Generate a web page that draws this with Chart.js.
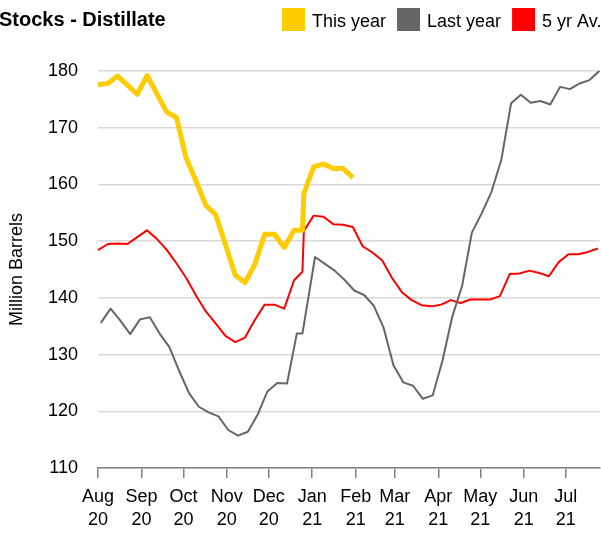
<!DOCTYPE html>
<html><head><meta charset="utf-8">
<script src="https://cdn.jsdelivr.net/npm/chart.js@4.4.1/dist/chart.umd.min.js"></script>
<style>html,body{margin:0;padding:0;background:#fff;overflow:hidden}</style>
</head><body>
<canvas id="c" width="601" height="533"></canvas>
<script>
// ---- data (x = days after 1 Aug 2020, as placed on the date axis) ----
const chartTitle = 'Stocks - Distillate';
const yAxisTitle = 'Million Barrels';
const monthDays  = [0, 31, 61, 92, 122, 153, 184, 212, 243, 273, 304, 334];
const monthNames = ['Aug','Sep','Oct','Nov','Dec','Jan','Feb','Mar','Apr','May','Jun','Jul'];
const monthYears = ['20','20','20','20','20','21','21','21','21','21','21','21'];

const seriesNames = ['This year', 'Last year', '5 yr Av.'];

const thisYearDays = [0,7,14,21,28,35,42,49,56,63,70,77,84,91,98,105,112,119,126,133,140,146,147,154,161,168,175,182];
const thisYearValues = [177.6,177.8,179.1,177.5,175.9,179.2,176.0,172.8,171.8,164.6,160.6,156.3,154.7,149.4,144.0,142.7,145.9,151.2,151.2,148.9,151.9,151.9,158.4,163.1,163.6,162.8,162.8,161.2];

const lastYearDays = [2,9,16,23,30,37,44,51,58,65,72,79,86,93,100,107,114,121,128,135,142,146,
  155,162,169,176,183,190,197,204,211,218,225,232,239,246,253,260,267,274,281,288,295,302,309,316,323,330,337,344,351,358];
const lastYearValues = [135.6,138.1,136.0,133.6,136.2,136.6,133.7,131.3,127.1,123.2,120.8,119.8,119.1,116.7,115.7,116.4,119.4,123.5,125.0,124.9,133.7,133.7,
  147.2,146.0,144.8,143.2,141.3,140.5,138.6,134.7,128.1,125.1,124.5,122.2,122.8,128.9,136.7,142.1,151.5,154.9,158.7,164.3,174.3,175.8,174.4,174.7,174.1,177.2,176.8,177.8,178.4,180.0];

const fiveYearDays = [0,7,14,21,28,35,42,49,56,63,70,77,84,91,98,105,112,119,126,133,140,146,
  147,154,161,168,175,182,189,196,203,210,217,224,231,238,245,252,259,266,273,280,287,294,301,308,315,322,329,336,343,350,357];
const fiveYearValues = [148.4,149.5,149.6,149.5,150.7,151.9,150.4,148.5,146.1,143.5,140.4,137.6,135.5,133.3,132.2,133.0,136.1,138.8,138.8,138.1,143.1,144.6,
  151.8,154.5,154.3,153.0,152.9,152.5,149.1,148.0,146.6,143.5,141.0,139.6,138.7,138.5,138.8,139.6,139.1,139.7,139.7,139.7,140.3,144.2,144.3,144.8,144.4,143.8,146.3,147.7,147.7,148.1,148.7];

const FONT = '"Liberation Sans", Arial, sans-serif';
const pts = (d, v) => d.map((x, i) => ({x: x, y: v[i]}));

const headerPlugin = {
  id: 'header',
  afterDraw(chart) {
    const ctx = chart.ctx;
    ctx.save();
    ctx.textBaseline = 'alphabetic';
    ctx.fillStyle = '#000';
    ctx.font = 'bold 20px ' + FONT;
    ctx.fillText(chartTitle, -1, 26);
    ctx.font = '18px ' + FONT;
    let x = 282;
    chart.data.datasets.forEach(ds => {
      ctx.fillStyle = ds.borderColor;
      ctx.fillRect(x, 8, 23, 23);
      x += 30;
      ctx.fillStyle = '#000';
      ctx.fillText(ds.label, x, 27);
      x += ctx.measureText(ds.label).width + 11;
    });
    ctx.restore();
  }
};

new Chart(document.getElementById('c'), {
  type: 'line',
  data: {
    datasets: [
      { label: seriesNames[0], data: pts(thisYearDays, thisYearValues), borderColor: '#FFCC00', backgroundColor: '#FFCC00', borderWidth: 5, pointRadius: 0, tension: 0, borderJoinStyle: 'round', clip: 6 },
      { label: seriesNames[1], data: pts(lastYearDays, lastYearValues), borderColor: '#666666', backgroundColor: '#666666', borderWidth: 2, pointRadius: 0, tension: 0, borderJoinStyle: 'round', clip: 6 },
      { label: seriesNames[2], data: pts(fiveYearDays, fiveYearValues), borderColor: '#FF0000', backgroundColor: '#FF0000', borderWidth: 2, pointRadius: 0, tension: 0, borderJoinStyle: 'round', clip: 6 }
    ]
  },
  options: {
    responsive: false,
    devicePixelRatio: 1,
    animation: false,
    layout: { padding: { top: 71, right: 1, bottom: 0, left: 0 } },
    plugins: { legend: { display: false }, title: { display: false }, tooltip: { enabled: false } },
    scales: {
      x: {
        type: 'linear', min: 0, max: 358.5,
        afterBuildTicks: s => { s.ticks = monthDays.map(v => ({ value: v })); },
        afterFit: s => { s.height = 65; },
        grid: { drawOnChartArea: false, drawTicks: true, tickLength: 10, color: '#808080', lineWidth: 1.5 },
        border: { display: true, color: '#808080', width: 1.5 },
        ticks: { autoSkip: false, maxRotation: 0, minRotation: 0, padding: 8, color: '#000',
          font: { size: 18, family: FONT, lineHeight: 1.25 },
          callback: (v, i) => [monthNames[i], monthYears[i]] }
      },
      y: {
        min: 110, max: 180,
        afterFit: s => { s.width = 98; },
        ticks: { stepSize: 10, padding: 20, color: '#000', font: { size: 18, family: FONT } },
        grid: { color: '#d9d9d9', lineWidth: 1.5, drawTicks: false },
        border: { display: false },
        title: { display: true, text: yAxisTitle, color: '#000', font: { size: 18, family: FONT }, padding: { top: 6, bottom: 0 } }
      }
    }
  },
  plugins: [headerPlugin]
});
</script>
</body></html>
